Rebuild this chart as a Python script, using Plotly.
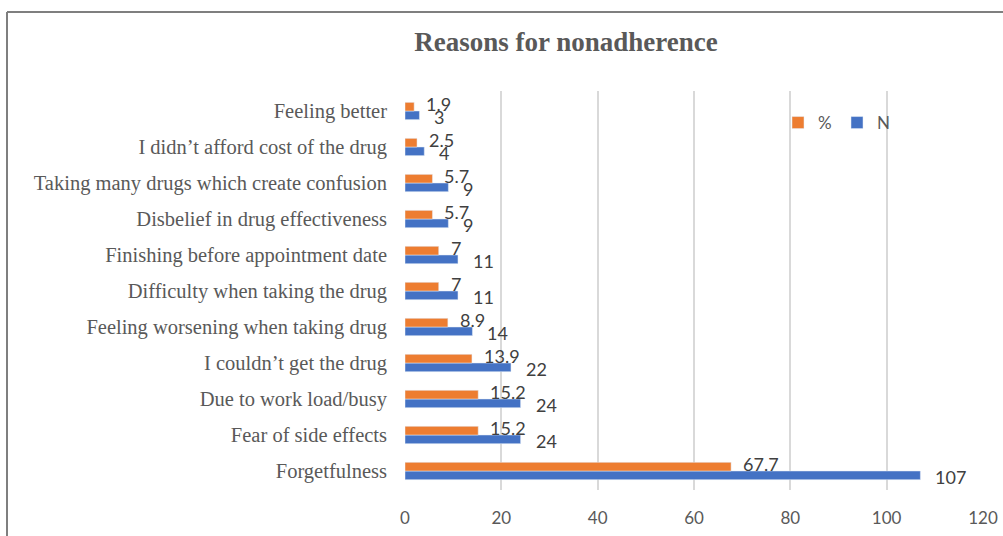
import plotly.graph_objects as go

categories = [
    "Forgetfulness",
    "Fear of side effects",
    "Due to work load/busy",
    "I couldn\u2019t get the drug",
    "Feeling worsening when taking drug",
    "Difficulty when taking the drug",
    "Finishing before appointment date",
    "Disbelief in drug effectiveness",
    "Taking many drugs which create confusion",
    "I didn\u2019t afford cost of the drug",
    "Feeling better",
]
n_values = [107, 24, 24, 22, 14, 11, 11, 9, 9, 4, 3]
pct_values = [67.7, 15.2, 15.2, 13.9, 8.9, 7, 7, 5.7, 5.7, 2.5, 1.9]
x_ticks = [0, 20, 40, 60, 80, 100, 120]

ORANGE = "#ED7D31"
BLUE = "#4472C4"
LABEL_FONT = dict(family="Lato, Open Sans, sans-serif", size=18, color="#404040")

fig = go.Figure()
fig.add_trace(go.Bar(y=categories, x=n_values, name="N", orientation="h",
                     marker=dict(color=BLUE)))
fig.add_trace(go.Bar(y=categories, x=pct_values, name="%", orientation="h",
                     marker=dict(color=ORANGE)))

annotations = []
for c, v in zip(categories, n_values):
    annotations.append(dict(x=v, y=c, xref="x", yref="y", text=str(v), showarrow=False,
                            xanchor="left", yanchor="middle", xshift=13, yshift=-6,
                            font=LABEL_FONT))
for c, v in zip(categories, pct_values):
    annotations.append(dict(x=v, y=c, xref="x", yref="y", text=f"{v:g}", showarrow=False,
                            xanchor="left", yanchor="middle", xshift=10, yshift=7,
                            font=LABEL_FONT))

L, R, T, B = 405, 20, 91, 46
W, H = 1003, 536
pw, ph = W - L - R, H - T - B
bx = (7 - L) / pw
by = (ph + T - 12) / ph

fig.update_layout(
    width=W, height=H,
    margin=dict(l=L, r=R, t=T, b=B, autoexpand=False),
    paper_bgcolor="white", plot_bgcolor="white",
    barmode="group", bargap=0.52, bargroupgap=0,
    title=dict(text="<b>Reasons for nonadherence</b>", x=566 / W, xref="container",
               xanchor="center", y=1 - 42 / H, yref="container", yanchor="middle",
               font=dict(family="Liberation Serif, Times New Roman, serif", size=27,
                         color="#595959")),
    xaxis=dict(range=[0, 120], tickvals=x_ticks, showgrid=True, gridcolor="#D9D9D9",
               gridwidth=1.5, zeroline=False, showline=False, ticks="",
               ticklabelstandoff=16, automargin=False,
               tickfont=dict(family="Lato, Open Sans, sans-serif", size=17, color="#595959")),
    yaxis=dict(categoryorder="array", categoryarray=categories, showgrid=False,
               zeroline=False, showline=False, ticks="", ticklabelstandoff=17,
               automargin=False,
               tickfont=dict(family="Liberation Serif, Times New Roman, serif", size=20.5,
                             color="#595959")),
    legend=dict(orientation="h", x=778 / W, xref="container", y=1 - 123 / H,
                yref="container", yanchor="middle", xanchor="left",
                traceorder="reversed", bgcolor="rgba(0,0,0,0)",
                font=dict(family="Lato, Open Sans, sans-serif", size=17, color="#595959"),
                itemwidth=30, entrywidthmode="pixels", entrywidth=14),
    annotations=annotations,
    shapes=[
        dict(type="line", xref="paper", yref="paper", x0=bx, x1=bx, y0=-0.5, y1=by,
             line=dict(color="#7F7F7F", width=2)),
        dict(type="line", xref="paper", yref="paper", x0=bx, x1=1.2, y0=by, y1=by,
             line=dict(color="#7F7F7F", width=2)),
    ],
    showlegend=True,
)

fig.write_html("out.html")
